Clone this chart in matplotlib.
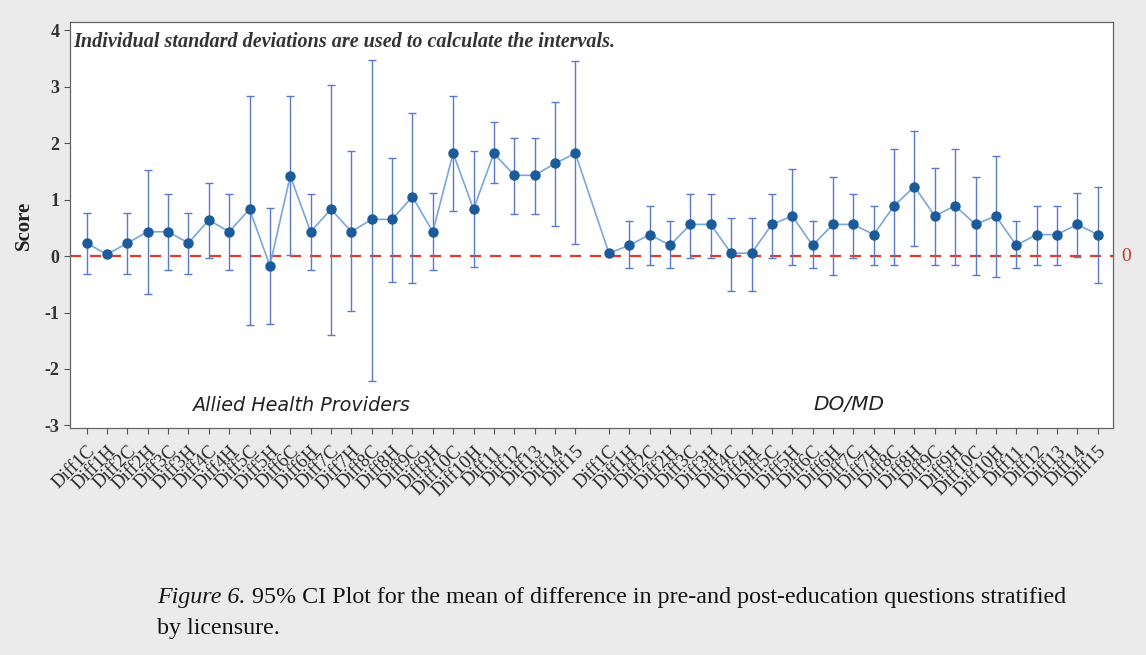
import matplotlib.pyplot as plt
from matplotlib import transforms
import numpy as np

# question labels (same set for both licensure groups)
questions = ['Diff1C', 'Diff1H', 'Diff2C', 'Diff2H', 'Diff3C', 'Diff3H', 'Diff4C', 'Diff4H',
             'Diff5C', 'Diff5H', 'Diff6C', 'Diff6H', 'Diff7C', 'Diff7H', 'Diff8C', 'Diff8H',
             'Diff9C', 'Diff9H', 'Diff10C', 'Diff10H', 'Diff11', 'Diff12', 'Diff13', 'Diff14', 'Diff15']

# Allied Health Providers: mean, lower and upper 95% CI
allied_mean = [0.23, 0.03, 0.23, 0.43, 0.43, 0.23, 0.64, 0.43, 0.83, -0.17, 1.42, 0.43, 0.83,
               0.43, 0.65, 0.65, 1.05, 0.43, 1.82, 0.83, 1.82, 1.43, 1.43, 1.64, 1.82]
allied_low = [-0.32, 0.03, -0.32, -0.67, -0.24, -0.32, -0.04, -0.25, -1.22, -1.20, 0.02, -0.25,
              -1.40, -0.98, -2.22, -0.46, -0.48, -0.25, 0.80, -0.19, 1.29, 0.74, 0.74, 0.53, 0.21]
allied_high = [0.77, 0.03, 0.77, 1.52, 1.10, 0.77, 1.30, 1.10, 2.83, 0.85, 2.83, 1.10, 3.03,
               1.86, 3.48, 1.74, 2.54, 1.11, 2.84, 1.86, 2.37, 2.09, 2.09, 2.73, 3.46]

# DO/MD: mean, lower and upper 95% CI
domd_mean = [0.05, 0.19, 0.38, 0.19, 0.56, 0.56, 0.05, 0.05, 0.56, 0.71, 0.19, 0.56, 0.56,
             0.38, 0.89, 1.23, 0.71, 0.89, 0.56, 0.71, 0.19, 0.38, 0.38, 0.56, 0.38]
domd_low = [0.05, -0.22, -0.16, -0.22, -0.04, -0.04, -0.62, -0.62, -0.04, -0.16, -0.22, -0.34,
            -0.04, -0.16, -0.16, 0.18, -0.16, -0.16, -0.34, -0.37, -0.22, -0.16, -0.16, -0.02, -0.48]
domd_high = [0.05, 0.62, 0.89, 0.62, 1.10, 1.10, 0.68, 0.68, 1.10, 1.55, 0.62, 1.40, 1.10,
             0.89, 1.89, 2.22, 1.56, 1.89, 1.40, 1.77, 0.62, 0.89, 0.89, 1.11, 1.23]

n = len(questions)
x_allied = np.arange(n)
x_domd = np.arange(n) + n + 0.65
x = np.concatenate([x_allied, x_domd])
mean = np.array(allied_mean + domd_mean)
low = np.array(allied_low + domd_low)
high = np.array(allied_high + domd_high)

bg = '#ebebeb'
fig = plt.figure(figsize=(11.46, 6.55), dpi=100, facecolor=bg)
ax = fig.add_axes([0.061, 0.347, 0.910, 0.619])
ax.set_facecolor('white')

# reference line at zero
ax.axhline(0, color='#e03a28', linestyle=(0, (5, 4)), linewidth=1.6, zorder=1)

# confidence intervals
ax.errorbar(x, mean, yerr=[mean - low, high - mean], fmt='none', ecolor='#5b79c9',
            elinewidth=1.0, capsize=3, capthick=1.0, zorder=2)
ax.plot(x, mean, color='#79a6dc', linewidth=1.2, zorder=3)
ax.plot(x, mean, 'o', color='#1c5b99', markersize=6.5, zorder=4)

ax.set_xlim(-0.82, x[-1] + 0.74)
ax.set_ylim(-3.04, 4.14)
ax.set_yticks(range(-3, 5))
ax.set_yticklabels([str(v) for v in range(-3, 5)], fontfamily='Liberation Serif',
                   fontweight='bold', fontsize=13, color='#333333')
ax.set_xticks(x)
ax.set_xticklabels(questions + questions, rotation=45, ha='right', rotation_mode='anchor',
                   fontfamily='Liberation Serif', fontsize=13.5, color='#2a2a2a')
ax.tick_params(axis='both', length=4, color='#555555', width=0.8)
ax.tick_params(axis='x', pad=7)
for s in ax.spines.values():
    s.set_color('#666666')
    s.set_linewidth(0.9)

ax.set_ylabel('Score', fontfamily='Liberation Serif', fontweight='bold', fontsize=15,
              labelpad=8, color='#222222')

ax.text(0.003, 0.975, 'Individual standard deviations are used to calculate the intervals.',
        transform=ax.transAxes, ha='left', va='top', fontfamily='Liberation Serif',
        fontstyle='italic', fontweight='bold', fontsize=14.5, color='#333333')
ax.text(0.117, 0.055, 'Allied Health Providers', transform=ax.transAxes, ha='left', va='center',
        fontfamily='DejaVu Sans', fontstyle='italic', fontsize=13.8, color='#222222')
ax.text(0.713, 0.058, 'DO/MD', transform=ax.transAxes, ha='left', va='center',
        fontfamily='DejaVu Sans', fontstyle='italic', fontsize=14.5, color='#222222')

trans = transforms.blended_transform_factory(ax.transAxes, ax.transData)
ax.text(1.008, 0, '0', transform=trans, ha='left', va='center', fontfamily='Liberation Serif',
        fontsize=14, color='#c0392b')

# caption below the chart
cap = dict(fontfamily='Liberation Serif', fontsize=17.3, color='#141414')
t1 = fig.text(0.137, 0.071, 'Figure 6.', fontstyle='italic', va='bottom', **cap)
ax.annotate('95% CI Plot for the mean of difference in pre-and post-education questions stratified',
            xy=(1, 0), xycoords=t1, xytext=(5, 0), textcoords='offset points',
            annotation_clip=False, ha='left', va='bottom', **cap)
fig.text(0.137, 0.032, 'by licensure.', va='baseline', **cap)

fig.savefig('out.png', dpi=100, facecolor=bg)
